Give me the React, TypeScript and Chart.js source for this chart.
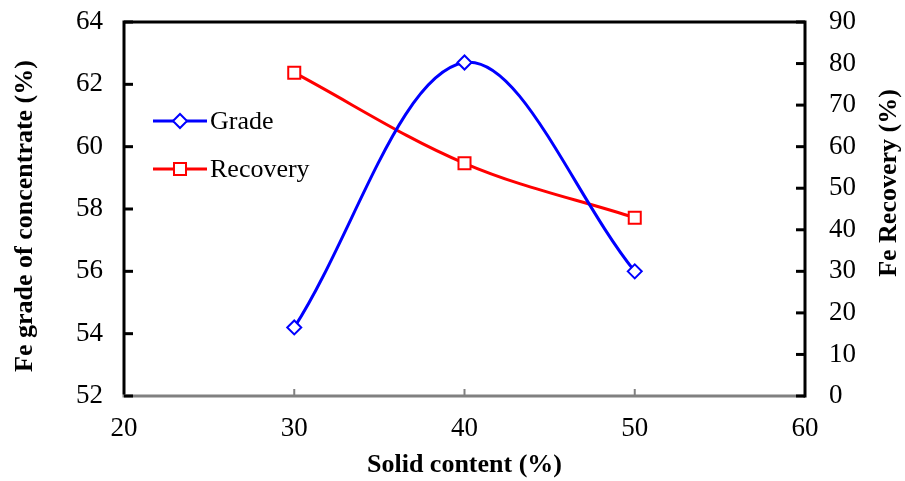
import React, { useEffect, useRef } from "react";
import { Chart, registerables } from "chart.js";

Chart.register(...registerables);

const solidContent = [30, 40, 50];
const gradeValues = [54.2, 62.7, 56.0];
const recoveryValues = [77.8, 56.0, 42.9];
const seriesLabels = ["Grade", "Recovery"];
const xTitle = "Solid content (%)";
const yLeftTitle = "Fe grade of concentrate (%)";
const yRightTitle = "Fe Recovery (%)";

const FONT = "'Liberation Serif', 'Times New Roman', serif";
const BLUE = "#0000FF";
const RED = "#FF0000";

const framePlugin = {
  id: "frameAndExtras",
  afterDatasetsDraw(chart: any) {
    const ctx = chart.ctx as CanvasRenderingContext2D;
    const { left, right, top, bottom } = chart.chartArea;
    const sx = chart.scales.x;
    const sy = chart.scales.y;
    const sy1 = chart.scales.y1;
    ctx.save();
    ctx.lineCap = "butt";
    // bottom axis (gray)
    ctx.strokeStyle = "#808080";
    ctx.lineWidth = 3;
    ctx.beginPath();
    ctx.moveTo(left - 1.5, bottom);
    ctx.lineTo(right, bottom);
    ctx.stroke();
    ctx.lineWidth = 2;
    for (const t of sx.ticks) {
      const px = sx.getPixelForValue(t.value);
      ctx.beginPath();
      ctx.moveTo(px, bottom);
      ctx.lineTo(px, bottom - 7);
      ctx.stroke();
    }
    // black frame
    ctx.strokeStyle = "#000000";
    ctx.lineWidth = 3;
    ctx.beginPath();
    ctx.moveTo(left, bottom - 1.5);
    ctx.lineTo(left, top);
    ctx.moveTo(left - 1.5, top);
    ctx.lineTo(right + 1.5, top);
    ctx.moveTo(right, top);
    ctx.lineTo(right, bottom + 1.5);
    ctx.stroke();
    for (const t of sy.ticks) {
      const py = sy.getPixelForValue(t.value);
      ctx.beginPath();
      ctx.moveTo(left, py);
      ctx.lineTo(left + 9, py);
      ctx.stroke();
    }
    for (const t of sy1.ticks) {
      const py = sy1.getPixelForValue(t.value);
      ctx.beginPath();
      ctx.moveTo(right, py);
      ctx.lineTo(right - 9, py);
      ctx.stroke();
    }
    // axis titles (rotated, reading bottom-to-top)
    ctx.fillStyle = "#000000";
    ctx.font = `bold 26px ${FONT}`;
    ctx.textAlign = "center";
    ctx.textBaseline = "alphabetic";
    ctx.save();
    ctx.translate(32, 216);
    ctx.rotate(-Math.PI / 2);
    ctx.fillText(yLeftTitle, 0, 0);
    ctx.restore();
    ctx.save();
    ctx.translate(896, 183);
    ctx.rotate(-Math.PI / 2);
    ctx.fillText(yRightTitle, 0, 0);
    ctx.restore();

    // legend
    const legendYs = [121, 169];
    chart.data.datasets.forEach((ds: any, i: number) => {
      const y = legendYs[i];
      ctx.strokeStyle = ds.borderColor;
      ctx.lineWidth = 3;
      ctx.beginPath();
      ctx.moveTo(153, y);
      ctx.lineTo(207, y);
      ctx.stroke();
      ctx.fillStyle = "#ffffff";
      ctx.lineWidth = 2;
      const cx = 180;
      if (ds.pointStyle === "rectRot") {
        const r = ds.pointRadius;
        ctx.beginPath();
        ctx.moveTo(cx - r, y);
        ctx.lineTo(cx, y - r);
        ctx.lineTo(cx + r, y);
        ctx.lineTo(cx, y + r);
        ctx.closePath();
        ctx.fill();
        ctx.stroke();
      } else {
        const s = ds.pointRadius * Math.SQRT1_2;
        ctx.beginPath();
        ctx.rect(cx - s, y - s, 2 * s, 2 * s);
        ctx.fill();
        ctx.stroke();
      }
      ctx.fillStyle = "#000000";
      ctx.font = `26px ${FONT}`;
      ctx.textAlign = "left";
      ctx.textBaseline = "middle";
      ctx.fillText(ds.label, 210, y + 1);
    });
    ctx.restore();
  },
};

export default function App() {
  const ref = useRef<HTMLCanvasElement | null>(null);
  useEffect(() => {
    if (!ref.current) return;
    const tickFont = { family: FONT, size: 27 };
    const chart = new Chart(ref.current, {
      type: "line",
      data: {
        datasets: [
          {
            label: seriesLabels[0],
            data: solidContent.map((x, i) => ({ x, y: gradeValues[i] })),
            yAxisID: "y",
            borderColor: BLUE,
            backgroundColor: "#ffffff",
            borderWidth: 3,
            pointStyle: "rectRot",
            pointRadius: 7,
            pointBorderWidth: 2,
            pointBorderColor: BLUE,
            pointBackgroundColor: "#ffffff",
            tension: 0.35,
            fill: false,
          } as any,
          {
            label: seriesLabels[1],
            data: solidContent.map((x, i) => ({ x, y: recoveryValues[i] })),
            yAxisID: "y1",
            borderColor: RED,
            backgroundColor: "#ffffff",
            borderWidth: 3,
            pointStyle: "rect",
            pointRadius: 8.5,
            pointBorderWidth: 2,
            pointBorderColor: RED,
            pointBackgroundColor: "#ffffff",
            tension: 0.35,
            fill: false,
          } as any,
        ],
      },
      options: {
        responsive: false,
        animation: false,
        layout: { padding: 0 },
        font: { family: FONT },
        plugins: {
          legend: { display: false },
          tooltip: { enabled: false },
        },
        scales: {
          x: {
            type: "linear",
            position: "bottom",
            min: 20,
            max: 60,
            ticks: { stepSize: 10, font: tickFont, color: "#000", padding: 17, maxRotation: 0 },
            grid: { display: false, drawTicks: false },
            border: { display: false },
            title: {
              display: true,
              text: xTitle,
              font: { family: FONT, size: 26, weight: "bold" },
              color: "#000",
              padding: { top: 0, bottom: 0 },
            },
            afterFit(scale: any) {
              scale.height = 85;
              scale.paddingLeft = 0;
              scale.paddingRight = 0;
            },
          },
          y: {
            type: "linear",
            position: "left",
            min: 52,
            max: 64,
            ticks: { stepSize: 2, font: tickFont, color: "#000", padding: 21 },
            grid: { display: false, drawTicks: false },
            border: { display: false },
            afterFit(scale: any) {
              scale.width = 124;
              scale.paddingTop = 22;
              scale.paddingBottom = 0;
            },
          },
          y1: {
            type: "linear",
            position: "right",
            min: 0,
            max: 90,
            ticks: { stepSize: 10, font: tickFont, color: "#000", padding: 24 },
            grid: { display: false, drawTicks: false },
            border: { display: false },
            afterFit(scale: any) {
              scale.width = 100;
              scale.paddingTop = 22;
              scale.paddingBottom = 0;
            },
          },
        },
      } as any,
      plugins: [framePlugin],
    });
    return () => chart.destroy();
  }, []);
  return (
    <canvas
      ref={ref}
      width={905}
      height={481}
      style={{ position: "absolute", left: 0, top: 0, display: "block" }}
    />
  );
}
